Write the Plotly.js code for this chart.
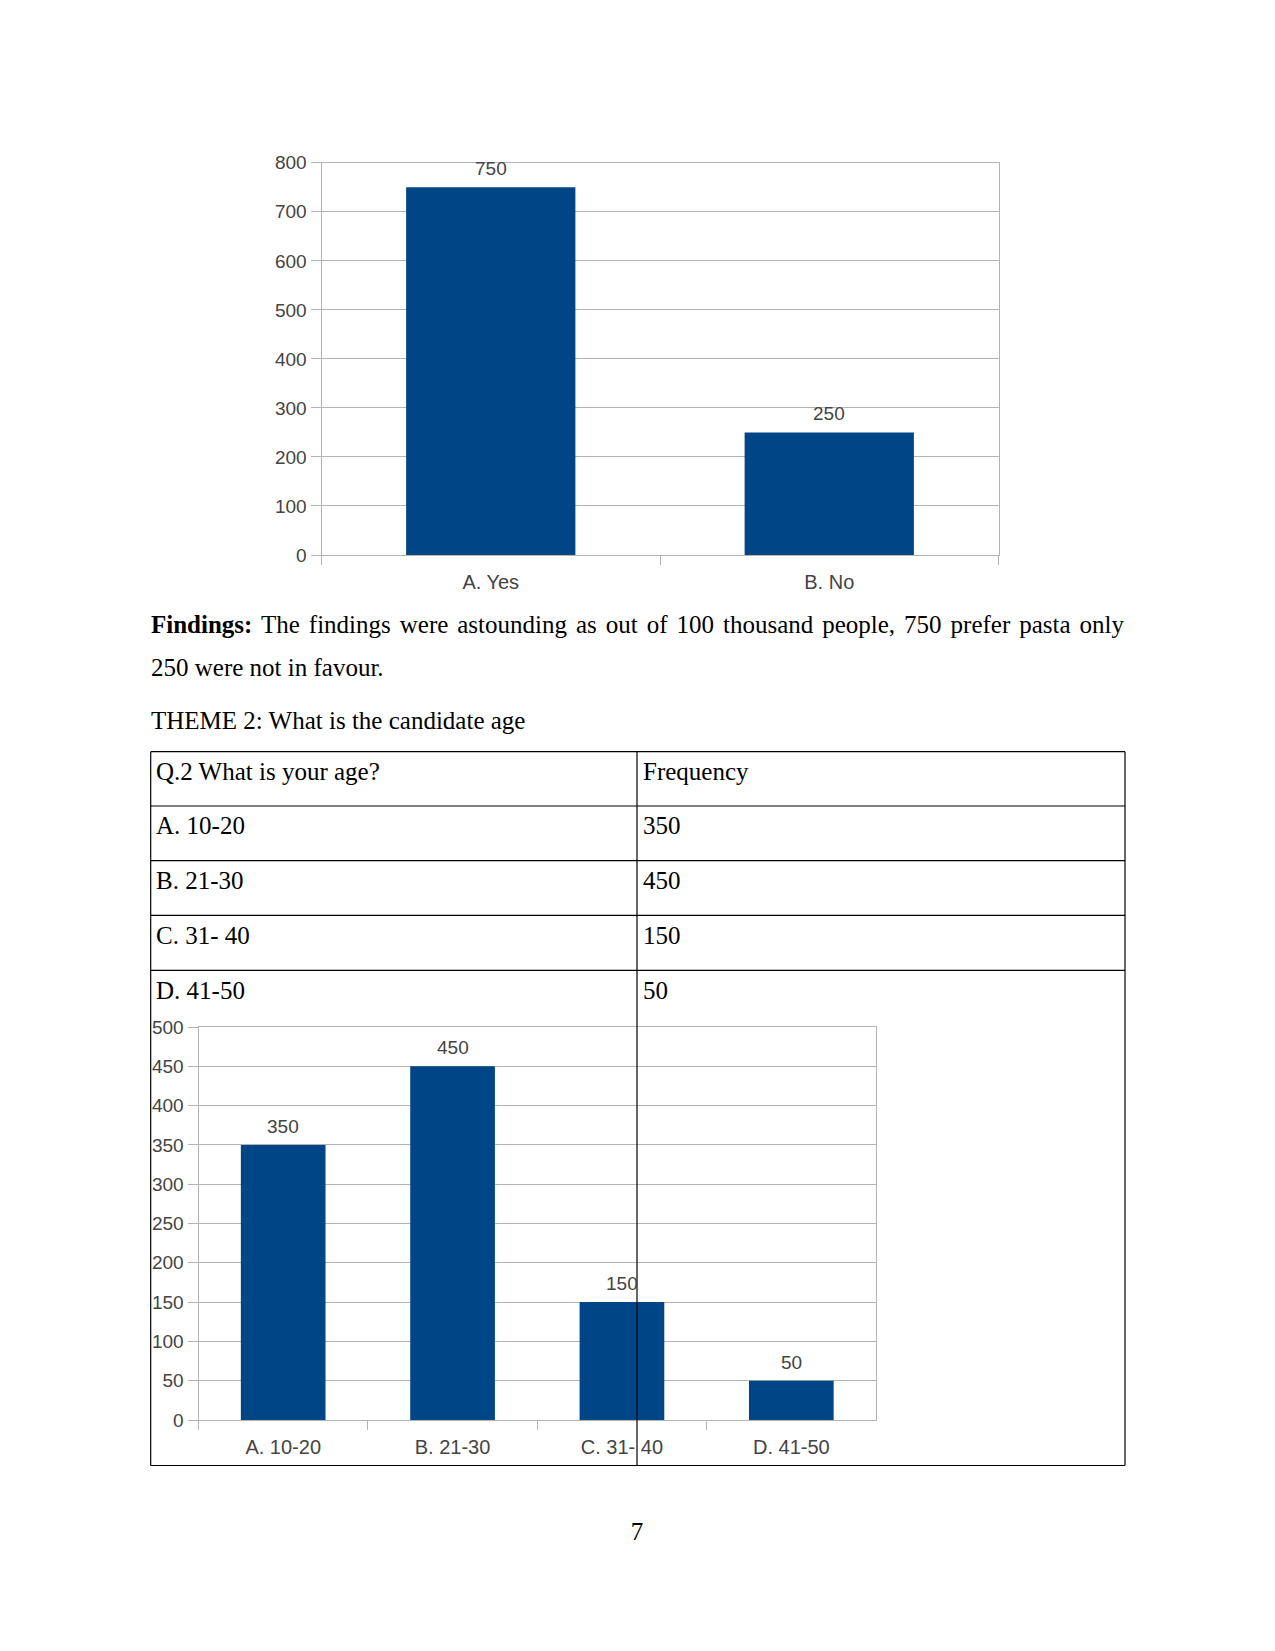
<!DOCTYPE html>
<html>
<head>
<meta charset="utf-8">
<script src="https://cdn.plot.ly/plotly-3.0.1.min.js"></script>
<style>
  body { margin: 0; background: #ffffff; }
  #page { position: relative; width: 1275px; height: 1651px; overflow: hidden; background: #ffffff; }
  #chart { position: absolute; left: 0; top: 0; width: 1275px; height: 1651px; }
  .t { position: absolute; font-family: 'Liberation Serif', 'Times New Roman', serif; font-size: 25px;
       line-height: 30px; color: #000; white-space: nowrap; pointer-events: none; }
  .just { white-space: normal; text-align: justify; text-align-last: justify; }
</style>
</head>
<body>
<div id="page"><div id="chart"></div></div>
<script>
// ---------- data ----------
const q1Categories = ['A. Yes', 'B. No'];
const q1Values = [750, 250];
const q1AxisMax = 800;
const q1AxisStep = 100;

const q2Categories = ['A. 10-20', 'B. 21-30', 'C. 31- 40', 'D. 41-50'];
const q2Values = [350, 450, 150, 50];
const q2AxisMax = 500;
const q2AxisStep = 50;

const tableHeader = ['Q.2 What is your age?', 'Frequency'];

const findingsBold = 'Findings:';
const findingsLine1 = ' The findings were astounding as out of 100 thousand people, 750 prefer pasta only';
const findingsLine2 = '250 were not in favour.';
const themeText = 'THEME 2: What is the candidate age';
const pageNumber = '7';

// ---------- page geometry helpers ----------
const W = 1275, H = 1651;
const px = x => x / W;
const py = y => 1 - y / H;

const gridColor = '#b3b3b3';
const textColor = '#444444';
const barColor = '#004586';
const chartFont = { family: 'Liberation Sans, Arial, sans-serif', size: 19, color: textColor };
const xLabelFont = { family: 'Liberation Sans, Arial, sans-serif', size: 20, color: textColor };

function yAxis(topPx, bottomPx, max, step, anchor) {
  return {
    domain: [py(bottomPx), py(topPx)], range: [0, max], tick0: 0, dtick: step,
    anchor: anchor, showgrid: true, gridcolor: gridColor, gridwidth: 1,
    showline: true, linecolor: gridColor, linewidth: 1, mirror: true,
    ticks: 'outside', ticklen: 10, tickwidth: 1, tickcolor: gridColor,
    tickfont: chartFont, zeroline: false, fixedrange: true, ticklabelstandoff: 0
  };
}
function xAxis(leftPx, rightPx, anchor) {
  return {
    domain: [px(leftPx), px(rightPx)], type: 'category', anchor: anchor,
    showgrid: false, showline: true, linecolor: gridColor, linewidth: 1, mirror: true,
    ticks: 'outside', tickson: 'boundaries', ticklen: 9, tickwidth: 1, tickcolor: gridColor,
    tickfont: xLabelFont, zeroline: false, fixedrange: true, ticklabelstandoff: 9
  };
}

const traces = [
  { type: 'bar', x: q1Categories, y: q1Values, xaxis: 'x', yaxis: 'y', width: 0.5,
    marker: { color: barColor, line: { width: 0 } }, hoverinfo: 'none' },
  { type: 'bar', x: q2Categories, y: q2Values, xaxis: 'x2', yaxis: 'y2', width: 0.5,
    marker: { color: barColor, line: { width: 0 } }, hoverinfo: 'none' }
];

const annotations = [];
q1Categories.forEach((c, i) => annotations.push({
  xref: 'x', yref: 'y', x: c, y: q1Values[i], text: String(q1Values[i]),
  showarrow: false, yanchor: 'bottom', yshift: 6, font: chartFont
}));
q2Categories.forEach((c, i) => annotations.push({
  xref: 'x2', yref: 'y2', x: c, y: q2Values[i], text: String(q2Values[i]),
  showarrow: false, yanchor: 'bottom', yshift: 6, font: chartFont
}));

// table lines
const tLeft = 150.7, tMid = 637, tRight = 1125, tTop = 751.7, tBottom = 1465.5;
const rowLines = [751.7, 806, 860.7, 915.3, 970.3];
const shapes = [];
const lineStyle = { color: '#000000', width: 1.2 };
rowLines.forEach(y => shapes.push({ type: 'line', xref: 'paper', yref: 'paper',
  x0: px(tLeft), x1: px(tRight), y0: py(y), y1: py(y), line: lineStyle, layer: 'above' }));
shapes.push({ type: 'line', xref: 'paper', yref: 'paper', x0: px(tLeft), x1: px(tRight),
  y0: py(tBottom), y1: py(tBottom), line: lineStyle, layer: 'above' });
[tLeft, tMid, tRight].forEach(x => shapes.push({ type: 'line', xref: 'paper', yref: 'paper',
  x0: px(x), x1: px(x), y0: py(tTop), y1: py(tBottom), line: lineStyle, layer: 'above' }));

const layout = {
  width: W, height: H, margin: { l: 0, r: 0, t: 0, b: 0 },
  paper_bgcolor: '#ffffff', plot_bgcolor: '#ffffff', showlegend: false,
  xaxis: xAxis(321.5, 998.5, 'y'),
  yaxis: yAxis(162.8, 555, q1AxisMax, q1AxisStep, 'x'),
  xaxis2: xAxis(198.5, 876, 'y2'),
  yaxis2: yAxis(1027, 1420, q2AxisMax, q2AxisStep, 'x2'),
  annotations: annotations, shapes: shapes, bargap: 0.5
};

Plotly.newPlot('chart', traces, layout, { staticPlot: true, displayModeBar: false });

// ---------- document text (real text) ----------
const page = document.getElementById('page');
function addText(text, left, baseline, opts) {
  const d = document.createElement('div');
  d.className = 't' + (opts && opts.cls ? ' ' + opts.cls : '');
  d.style.left = left + 'px';
  d.style.top = (baseline - 23.4) + 'px';
  if (opts && opts.width) d.style.width = opts.width + 'px';
  if (opts && opts.center) { d.style.transform = 'translateX(-50%)'; }
  if (opts && opts.html) d.innerHTML = text; else d.textContent = text;
  page.appendChild(d);
  return d;
}
addText('<b>' + findingsBold + '</b>' + findingsLine1, 151, 633, { cls: 'just', width: 973, html: true });
addText(findingsLine2, 151, 676.5);
addText(themeText, 151, 729);

const rowBase = 28.8;
addText(tableHeader[0], 156, rowLines[0] + rowBase);
addText(tableHeader[1], 643, rowLines[0] + rowBase);
q2Categories.forEach((c, i) => {
  addText(c, 156, rowLines[i + 1] + rowBase);
  addText(String(q2Values[i]), 643, rowLines[i + 1] + rowBase);
});
addText(pageNumber, 637, 1540, { center: true });
</script>
</body>
</html>
